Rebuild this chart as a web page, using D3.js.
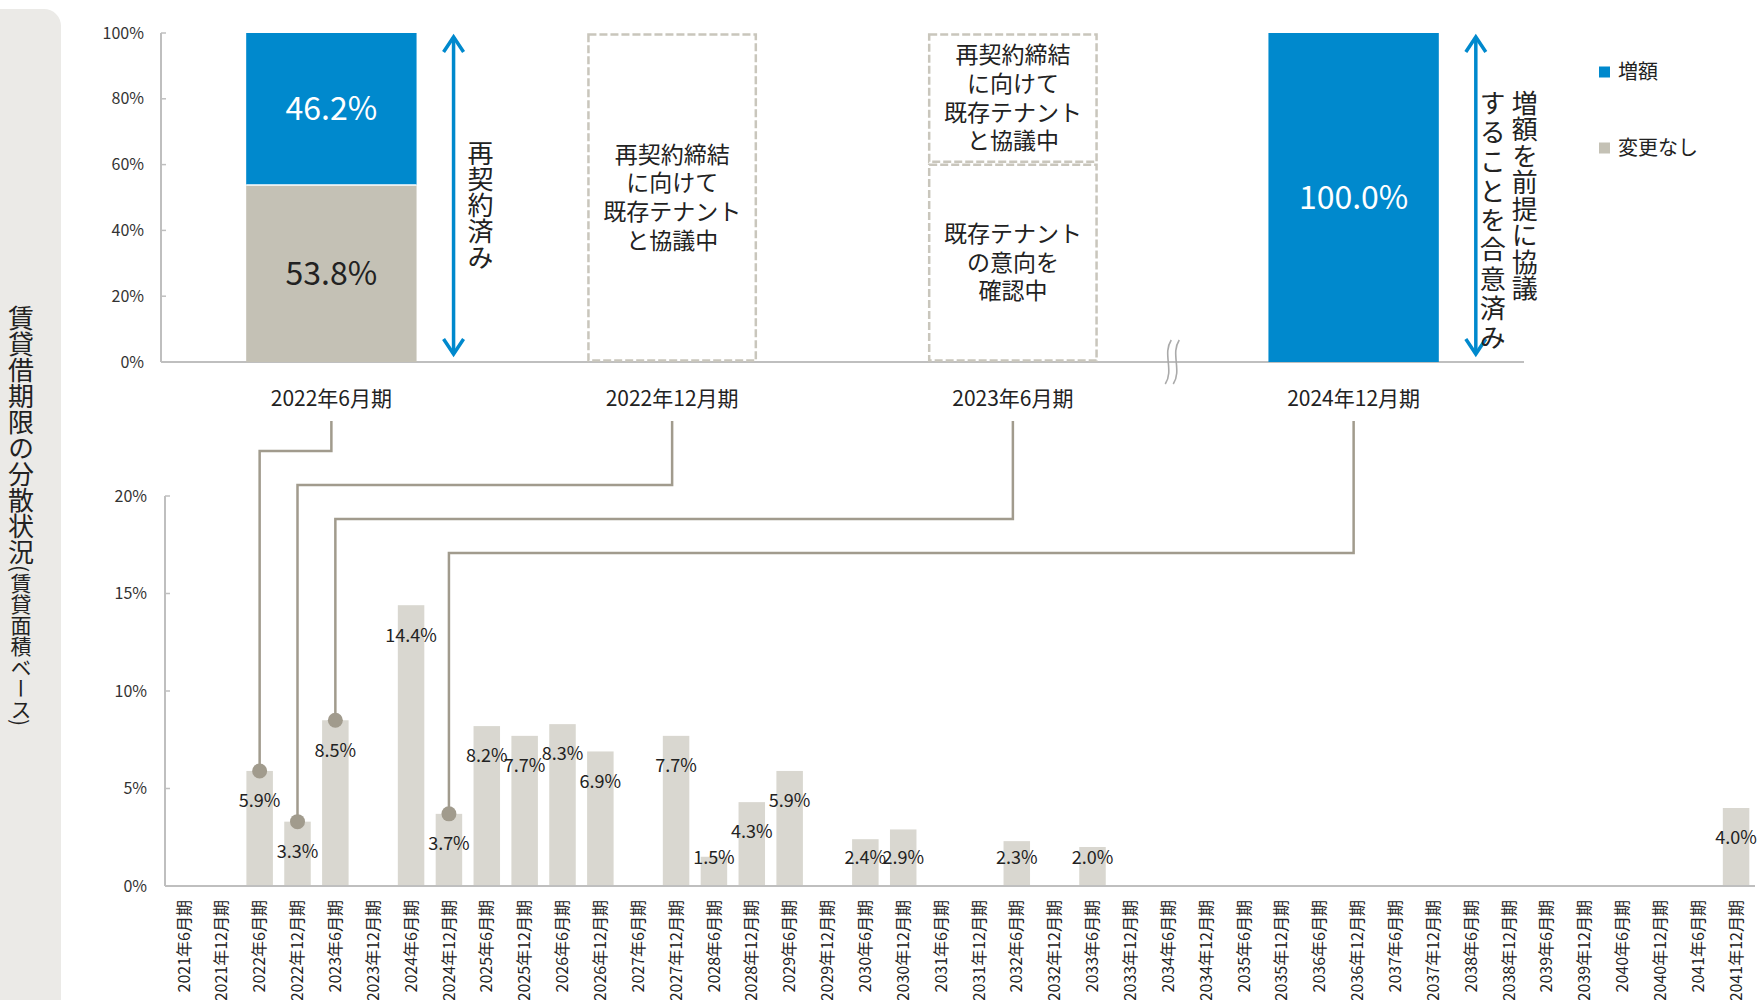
<!DOCTYPE html>
<html>
<head>
<meta charset="utf-8">
<script src="https://cdn.jsdelivr.net/npm/d3@7"></script>
<style>
  body { margin: 0; background: #fff; }
  svg text { font-family: "Noto Sans CJK JP", "Noto Sans", sans-serif; fill: #222; }
</style>
</head>
<body>
<div id="chart"></div>
<script>
// ---- top chart: status of leases up for renewal ----
var topPeriods = ["2022年6月期", "2022年12月期", "2023年6月期", "2024年12月期"];
var increaseShare = [46.2, 0, 0, 100.0];
var unchangedShare = [53.8, 0, 0, 0];
var topTicks = [0, 20, 40, 60, 80, 100];
var pendingSegments = [
    { period: "2022年12月期", from: 0, to: 100, lines: ["再契約締結", "に向けて", "既存テナント", "と協議中"] },
    { period: "2023年6月期", from: 60.4, to: 100, lines: ["再契約締結", "に向けて", "既存テナント", "と協議中"] },
    { period: "2023年6月期", from: 0, to: 60.4, lines: ["既存テナント", "の意向を", "確認中"] }
];
var arrowNotes = [
    { period: "2022年6月期", columns: ["再契約済み"] },
    { period: "2024年12月期", columns: ["増額を前提に協議", "することを合意済み"] }
];
var legendLabels = ["増額", "変更なし"];

// ---- bottom chart: lease expiry by period ----
var expiryPeriods = [
    "2021年6月期", "2021年12月期", "2022年6月期", "2022年12月期", "2023年6月期", "2023年12月期",
    "2024年6月期", "2024年12月期", "2025年6月期", "2025年12月期", "2026年6月期", "2026年12月期",
    "2027年6月期", "2027年12月期", "2028年6月期", "2028年12月期", "2029年6月期", "2029年12月期",
    "2030年6月期", "2030年12月期", "2031年6月期", "2031年12月期", "2032年6月期", "2032年12月期",
    "2033年6月期", "2033年12月期", "2034年6月期", "2034年12月期", "2035年6月期", "2035年12月期",
    "2036年6月期", "2036年12月期", "2037年6月期", "2037年12月期", "2038年6月期", "2038年12月期",
    "2039年6月期", "2039年12月期", "2040年6月期", "2040年12月期", "2041年6月期", "2041年12月期"
];
var expiryShare = [
    0, 0, 5.9, 3.3, 8.5, 0,
    14.4, 3.7, 8.2, 7.7, 8.3, 6.9,
    0, 7.7, 1.5, 4.3, 5.9, 0,
    2.4, 2.9, 0, 0, 2.3, 0,
    2.0, 0, 0, 0, 0, 0,
    0, 0, 0, 0, 0, 0,
    0, 0, 0, 0, 0, 4.0
];
var bottomTicks = [0, 5, 10, 15, 20];

var BLUE = "#0089cd", GRAY_TOP = "#c4c1b5", GRAY_BAR = "#d9d7d0",
    LINK = "#a19b8d", DASH = "#c9c6bc", AXIS = "#bfbfbf";

var svgWidth = 1757, svgHeight = 1000;
var svg = d3.select("#chart").append("svg")
    .attr("width", svgWidth)
    .attr("height", svgHeight);

// left side title panel
svg.append("rect")
    .attr("x", -20).attr("y", 9)
    .attr("width", 81).attr("height", 1020)
    .attr("rx", 17)
    .attr("fill", "#ebeae7");

var title = svg.append("text")
    .attr("x", 21).attr("y", 305)
    .style("writing-mode", "vertical-rl");
title.append("tspan").attr("font-size", 26).text("賃貸借期限の分散状況");
title.append("tspan").attr("font-size", 21).text("(賃貸面積ベース)");

// ================= TOP CHART =================
var topX = d3.scaleBand()
    .domain(topPeriods)
    .range([161, 1524])
    .paddingInner(0.5)
    .paddingOuter(0.25);

var topY = d3.scaleLinear().domain([0, 100]).range([362, 33]);

var topG = svg.append("g");

// y axis
topG.append("line")
    .attr("x1", 161).attr("x2", 161)
    .attr("y1", topY(100)).attr("y2", topY(0))
    .attr("stroke", AXIS).attr("stroke-width", 2);
topG.selectAll(".ttick").data(topTicks).enter().append("line")
    .attr("x1", 161).attr("x2", 166)
    .attr("y1", d => topY(d)).attr("y2", d => topY(d))
    .attr("stroke", AXIS).attr("stroke-width", 1.5);
topG.selectAll(".tlabel").data(topTicks).enter().append("text")
    .attr("x", 144)
    .attr("y", d => topY(d))
    .attr("dy", "0.35em")
    .attr("text-anchor", "end")
    .attr("font-size", 16)
    .style("fill", "#333")
    .text(d => d + "%");

// x axis line
topG.append("line")
    .attr("x1", 161).attr("x2", 1524)
    .attr("y1", topY(0)).attr("y2", topY(0))
    .attr("stroke", AXIS).attr("stroke-width", 2);

// axis break mark
var breakX = (topX("2023年6月期") + topX.bandwidth() + topX("2024年12月期")) / 2 - 11;
[-4, 4].forEach(function(off) {
    var bx = breakX + off, y0 = topY(0);
    topG.append("path")
        .attr("d", `M${bx + 3},${y0 - 22} C${bx - 6},${y0 - 8} ${bx + 6},${y0 + 8} ${bx - 3},${y0 + 22}`)
        .attr("fill", "none")
        .attr("stroke", "#aaa")
        .attr("stroke-width", 1.6);
});

// stacked bars
var stackRows = topPeriods.map(function(p, i) {
    return { period: p, unchanged: unchangedShare[i], increase: increaseShare[i] };
});
var stack = d3.stack().keys(["unchanged", "increase"])(stackRows);
var fillFor = { unchanged: GRAY_TOP, increase: BLUE };

stack.forEach(function(layer) {
    var key = layer.key;
    layer.forEach(function(seg) {
        var v = seg[1] - seg[0];
        if (v <= 0) return;
        var x = topX(seg.data.period);
        topG.append("rect")
            .attr("x", x)
            .attr("y", topY(seg[1]))
            .attr("width", topX.bandwidth())
            .attr("height", topY(seg[0]) - topY(seg[1]))
            .attr("fill", fillFor[key]);
        topG.append("text")
            .attr("x", x + topX.bandwidth() / 2)
            .attr("y", (topY(seg[0]) + topY(seg[1])) / 2)
            .attr("dy", "0.35em")
            .attr("text-anchor", "middle")
            .attr("font-size", 32)
            .style("fill", key === "increase" ? "#fff" : "#222")
            .text(v.toFixed(1) + "%");
    });
});
// white separator between the stacked parts
topG.append("line")
    .attr("x1", topX("2022年6月期")).attr("x2", topX("2022年6月期") + topX.bandwidth())
    .attr("y1", topY(unchangedShare[0])).attr("y2", topY(unchangedShare[0]))
    .attr("stroke", "#fff").attr("stroke-width", 1.5);

// dashed boxes for undecided leases
pendingSegments.forEach(function(s) {
    var x = topX(s.period);
    topG.append("rect")
        .attr("x", x + 1.5)
        .attr("y", topY(s.to) + 1.5)
        .attr("width", topX.bandwidth() - 3)
        .attr("height", topY(s.from) - topY(s.to) - 3)
        .attr("fill", "none")
        .attr("stroke", DASH)
        .attr("stroke-width", 2.5)
        .attr("stroke-dasharray", "8,3");
    var mid = (topY(s.from) + topY(s.to)) / 2;
    var lh = 28.7;
    s.lines.forEach(function(line, i) {
        topG.append("text")
            .attr("x", x + topX.bandwidth() / 2)
            .attr("y", mid + (i - (s.lines.length - 1) / 2) * lh)
            .attr("dy", "0.35em")
            .attr("text-anchor", "middle")
            .attr("font-size", 23)
            .text(line);
    });
});

// category labels
topG.selectAll(".tcat").data(topPeriods).enter().append("text")
    .attr("x", d => topX(d) + topX.bandwidth() / 2)
    .attr("y", 399)
    .attr("dy", "0.35em")
    .attr("text-anchor", "middle")
    .attr("font-size", 21)
    .text(d => d);

// double arrows with vertical notes
arrowNotes.forEach(function(n, k) {
    var ax = topX(n.period) + topX.bandwidth() + 37;
    var y1 = topY(100) + 4, y2 = topY(0) - 8;
    var g = topG.append("g").attr("stroke", BLUE).attr("stroke-width", 3.5).attr("fill", "none");
    g.append("line").attr("x1", ax).attr("x2", ax).attr("y1", y1).attr("y2", y2);
    g.append("path").attr("d", `M${ax - 10},${y1 + 15} L${ax},${y1} L${ax + 10},${y1 + 15}`);
    g.append("path").attr("d", `M${ax - 10},${y2 - 15} L${ax},${y2} L${ax + 10},${y2 - 15}`);

    n.columns.forEach(function(col, j) {
        var t = topG.append("text")
            .attr("font-size", 26)
            .style("writing-mode", "vertical-rl")
            .text(col);
        if (n.columns.length === 1) {
            t.attr("x", ax + 27).attr("y", (topY(0) + topY(100)) / 2 + 8).attr("text-anchor", "middle");
        } else {
            t.attr("x", ax + 49 - j * 32).attr("y", 90).attr("text-anchor", "start")
                .style("letter-spacing", j === 1 ? "3.3px" : "0.5px");
        }
    });
});

// legend
var legend = svg.append("g").attr("transform", "translate(1599, 0)");
legendLabels.forEach(function(l, i) {
    var cy = 72 + i * 76;
    legend.append("rect")
        .attr("x", 0).attr("y", cy - 5.5)
        .attr("width", 11).attr("height", 11)
        .attr("fill", i === 0 ? BLUE : GRAY_TOP);
    legend.append("text")
        .attr("x", 19).attr("y", cy)
        .attr("dy", "0.35em")
        .attr("font-size", 20)
        .text(l);
});

// ================= BOTTOM CHART =================
var botX = d3.scaleBand()
    .domain(expiryPeriods)
    .range([165, 1755])
    .paddingInner(0.3)
    .paddingOuter(0.15);

var botY = d3.scaleLinear().domain([0, 20]).range([886, 496]);

var botG = svg.append("g");

botG.append("line")
    .attr("x1", 165).attr("x2", 165)
    .attr("y1", botY(20)).attr("y2", botY(0))
    .attr("stroke", AXIS).attr("stroke-width", 2);
botG.selectAll(".btick").data(bottomTicks).enter().append("line")
    .attr("x1", 165).attr("x2", 170)
    .attr("y1", d => botY(d)).attr("y2", d => botY(d))
    .attr("stroke", AXIS).attr("stroke-width", 1.5);
botG.selectAll(".blabel").data(bottomTicks).enter().append("text")
    .attr("x", 147)
    .attr("y", d => botY(d))
    .attr("dy", "0.35em")
    .attr("text-anchor", "end")
    .attr("font-size", 16)
    .style("fill", "#333")
    .text(d => d + "%");

var bars = expiryPeriods.map(function(p, i) { return { period: p, value: expiryShare[i] }; })
    .filter(d => d.value > 0);

botG.selectAll(".bar").data(bars).enter().append("rect")
    .attr("x", d => botX(d.period))
    .attr("y", d => botY(d.value))
    .attr("width", botX.bandwidth())
    .attr("height", d => botY(0) - botY(d.value))
    .attr("fill", GRAY_BAR);

botG.append("line")
    .attr("x1", 165).attr("x2", 1755)
    .attr("y1", botY(0)).attr("y2", botY(0))
    .attr("stroke", AXIS).attr("stroke-width", 2);

botG.selectAll(".cat").data(expiryPeriods).enter().append("text")
    .attr("transform", d => `translate(${botX(d) + botX.bandwidth() / 2}, 900) rotate(-90)`)
    .attr("dy", "0.35em")
    .attr("text-anchor", "end")
    .attr("font-size", 16)
    .text(d => d);

// connectors from the top chart periods down to their bars
topPeriods.forEach(function(p, i) {
    var v = expiryShare[expiryPeriods.indexOf(p)];
    var x1 = topX(p) + topX.bandwidth() / 2;
    var x2 = botX(p) + botX.bandwidth() / 2;
    var elbow = 451 + i * 34;
    botG.append("path")
        .attr("d", `M${x1},421 V${elbow} H${x2} V${botY(v)}`)
        .attr("fill", "none")
        .attr("stroke", LINK)
        .attr("stroke-width", 2.5);
    botG.append("circle")
        .attr("cx", x2).attr("cy", botY(v))
        .attr("r", 7.5)
        .attr("fill", LINK);
});

// value labels
botG.selectAll(".val").data(bars).enter().append("text")
    .attr("x", d => botX(d.period) + botX.bandwidth() / 2)
    .attr("y", d => Math.min(botY(d.value) + 30, botY(0) - 28))
    .attr("dy", "0.35em")
    .attr("text-anchor", "middle")
    .attr("font-size", 18)
    .text(d => d.value.toFixed(1) + "%");
</script>
</body>
</html>
